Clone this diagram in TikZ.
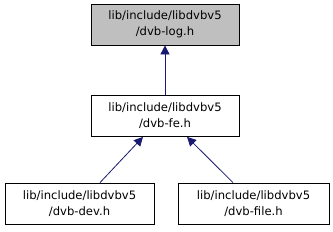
\documentclass[tikz,border=0pt]{standalone}
\usepackage{fontspec}
\setmainfont{DejaVu Sans}
\usetikzlibrary{arrows.meta,calc}
\definecolor{edgeblue}{HTML}{191970}
\definecolor{hdrgray}{HTML}{BFBFBF}
\begin{document}
\begin{tikzpicture}[x=1pt,y=-1pt,
  filebox/.style={draw=black, line width=0.8pt, minimum width=148pt, minimum height=41pt, inner sep=0pt, align=center, font=\fontsize{11.6}{16}\selectfont},
  dep/.style={draw=edgeblue, line width=0.8pt, -{Triangle[length=9pt,width=9pt]}}]
\useasboundingbox (0,0) rectangle (333,231);
\node[filebox, fill=hdrgray] (log) at (165,24.5) {lib/include/libdvbv5\\/dvb-log.h};
\node[filebox] (fe) at (165,116) {lib/include/libdvbv5\\/dvb-fe.h};
\node[filebox, minimum width=149pt] (dev) at (79.5,203.5) {lib/include/libdvbv5\\/dvb-dev.h};
\node[filebox, minimum width=151pt] (file) at (253.5,203.5) {lib/include/libdvbv5\\/dvb-file.h};
\draw[dep] (fe.north) -- (log.south);
\draw[dep] ($(dev.north)+(20.5,0)$) -- ($(fe.south)+(-22,0)$);
\draw[dep] ($(file.north)+(-20.5,0)$) -- ($(fe.south)+(22,0)$);
\end{tikzpicture}
\end{document}
